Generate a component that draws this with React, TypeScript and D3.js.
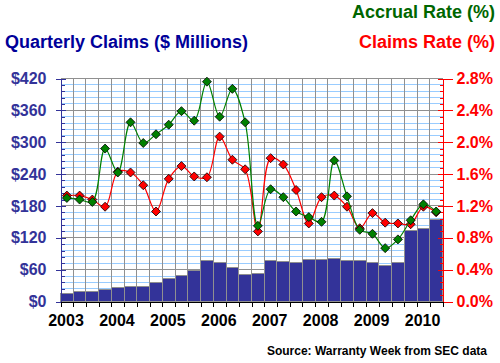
import React, { useEffect, useRef } from 'react';
import * as d3 from 'd3';

// quarters from 2003 Q1 to 2010 Q2
const quarters = [
  '2003Q1', '2003Q2', '2003Q3', '2003Q4',
  '2004Q1', '2004Q2', '2004Q3', '2004Q4',
  '2005Q1', '2005Q2', '2005Q3', '2005Q4',
  '2006Q1', '2006Q2', '2006Q3', '2006Q4',
  '2007Q1', '2007Q2', '2007Q3', '2007Q4',
  '2008Q1', '2008Q2', '2008Q3', '2008Q4',
  '2009Q1', '2009Q2', '2009Q3', '2009Q4',
  '2010Q1', '2010Q2',
];
const yearLabels = ['2003', '2004', '2005', '2006', '2007', '2008', '2009', '2010'];

// quarterly claims, $ millions (bars, left axis)
const claimsMillions = [
  15, 18, 18, 22, 27, 29, 29, 35,
  44, 49, 59, 77, 74, 64, 51, 53,
  77, 76, 74, 79, 79, 81, 77, 77,
  74, 68, 74, 134, 138, 154,
];
// accrual rate, % (green line, right axis)
const accrualRate = [
  1.30, 1.28, 1.25, 1.92, 1.62, 2.25, 1.99, 2.10,
  2.22, 2.39, 2.27, 2.76, 2.32, 2.67, 2.25, 0.95,
  1.41, 1.31, 1.13, 1.06, 1.00, 1.77, 1.32, 0.90,
  0.85, 0.67, 0.78, 1.02, 1.22, 1.13,
];
// claims rate, % (red line, right axis)
const claimsRate = [
  1.33, 1.33, 1.28, 1.19, 1.63, 1.62, 1.46, 1.13,
  1.54, 1.70, 1.57, 1.56, 2.07, 1.78, 1.66, 0.88,
  1.80, 1.72, 1.40, 0.98, 1.31, 1.33, 1.19, 0.92,
  1.11, 0.99, 0.98, 0.97, 1.19, 1.12,
];

const leftTicks = [0, 60, 120, 180, 240, 300, 360, 420];
const rightTicks = [0, 0.4, 0.8, 1.2, 1.6, 2.0, 2.4, 2.8];

const FONT = '"Liberation Sans", Arial, sans-serif';

const App = () => {
  const ref = useRef<SVGSVGElement>(null);

  useEffect(() => {
    const svg = d3.select(ref.current);
    svg.selectAll('*').remove();

    const left = 60.5, right = 442.5, top = 78.5, bottom = 301.5;

    const x = d3.scaleBand<string>().domain(quarters).range([left, right]);
    const bw = x.bandwidth();
    const xi = d3.scaleLinear().domain([0, quarters.length]).range([left, right]);
    const yL = d3.scaleLinear().domain([0, 420]).range([bottom, top]);
    const yR = d3.scaleLinear().domain([0, 2.8]).range([bottom, top]);

    const minorVals = d3.range(0, 421, 12);

    // horizontal grid
    const grid = svg.append('g').attr('shape-rendering', 'crispEdges');
    grid.selectAll('line.minor')
      .data(minorVals.filter(v => v % 60 !== 0))
      .join('line')
      .attr('x1', left).attr('x2', right)
      .attr('y1', d => yL(d)).attr('y2', d => yL(d))
      .attr('stroke', '#99ccff');
    grid.selectAll('line.major')
      .data(leftTicks)
      .join('line')
      .attr('x1', left).attr('x2', right)
      .attr('y1', d => yL(d)).attr('y2', d => yL(d))
      .attr('stroke', '#909090');
    // vertical grid, one per quarter boundary
    grid.selectAll('line.v')
      .data(d3.range(1, quarters.length))
      .join('line')
      .attr('x1', d => xi(d)).attr('x2', d => xi(d))
      .attr('y1', top).attr('y2', bottom)
      .attr('stroke', '#909090');

    // bars
    svg.append('g').attr('shape-rendering', 'crispEdges')
      .selectAll('rect')
      .data(claimsMillions)
      .join('rect')
      .attr('x', (d, i) => x(quarters[i])!)
      .attr('y', d => yL(d))
      .attr('width', bw)
      .attr('height', d => bottom - yL(d))
      .attr('fill', '#333399')
      .attr('stroke', '#909090');

    const styleAxis = (g: d3.Selection<SVGGElement, unknown, null, undefined>, color: string) => {
      g.attr('shape-rendering', 'crispEdges');
      g.select('.domain').attr('stroke', color);
      g.selectAll('.tick line').attr('stroke', color);
      g.selectAll('.tick text')
        .attr('fill', color)
        .style('font-family', FONT)
        .style('font-weight', 'bold')
        .style('font-size', '16px');
    };

    // left axis
    const gl = svg.append('g').attr('transform', `translate(${left},0)`);
    gl.call(d3.axisLeft(yL).tickValues(minorVals).tickSizeInner(-4).tickSizeOuter(0).tickFormat(() => ''));
    gl.call(g => g.append('g').call(d3.axisLeft(yL).tickValues(leftTicks).tickSizeInner(-5).tickSizeOuter(0).tickFormat(() => '')));
    gl.call(g => g.append('g').call(d3.axisLeft(yL).tickValues(leftTicks).tickSizeInner(5).tickSizeOuter(0).tickPadding(9).tickFormat(d => `$${d}`)));
    styleAxis(gl as any, '#333399');
    gl.selectAll('g').each(function () { styleAxis(d3.select(this as SVGGElement) as any, '#333399'); });
    gl.selectAll('.tick text').attr('fill', '#333399');

    // right axis
    const gr = svg.append('g').attr('transform', `translate(${right},0)`);
    gr.call(d3.axisRight(yR).tickValues(minorVals.map(v => v / 150)).tickSizeInner(-3).tickSizeOuter(0).tickFormat(() => ''));
    gr.call(g => g.append('g').call(d3.axisRight(yR).tickValues(rightTicks).tickSizeInner(-5).tickSizeOuter(0).tickFormat(() => '')));
    gr.call(g => g.append('g').call(d3.axisRight(yR).tickValues(rightTicks).tickSizeInner(10).tickSizeOuter(0).tickPadding(4).tickFormat(d => `${(+d).toFixed(1)}%`)));
    gr.selectAll('g').each(function () { styleAxis(d3.select(this as SVGGElement) as any, '#ff0000'); });
    styleAxis(gr as any, '#ff0000');

    // bottom axis
    const gb = svg.append('g').attr('transform', `translate(0,${bottom})`);
    gb.call(d3.axisBottom(xi).tickValues(d3.range(0, quarters.length + 1)).tickSizeInner(5).tickSizeOuter(0).tickFormat(() => ''));
    styleAxis(gb as any, '#000000');

    // year labels
    svg.append('g')
      .selectAll('text')
      .data(yearLabels)
      .join('text')
      .attr('x', d => x(`${d}Q1`)! + 5.5)
      .attr('y', 325.5)
      .attr('text-anchor', 'middle')
      .style('font-family', FONT)
      .style('font-weight', 'bold')
      .style('font-size', '16px')
      .attr('fill', '#000')
      .text(d => d);

    // lines + diamonds
    const diamond = 'M0,-4.5L4.5,0L0,4.5L-4.5,0Z';
    const drawSeries = (vals: number[], color: string, marker: string) => {
      const line = d3.line<number>()
        .x((d, i) => x(quarters[i])! + bw / 2)
        .y(d => yR(d))
        .curve(d3.curveCatmullRom.alpha(0.5));
      svg.append('path')
        .datum(vals)
        .attr('d', line)
        .attr('fill', 'none')
        .attr('stroke', color)
        .attr('stroke-width', 1.2);
      svg.append('g')
        .selectAll('path')
        .data(vals)
        .join('path')
        .attr('transform', (d, i) => `translate(${x(quarters[i])! + bw / 2},${yR(d)})`)
        .attr('d', diamond)
        .attr('fill', marker)
        .attr('stroke', '#000')
        .attr('stroke-width', 0.8);
    };
    drawSeries(claimsRate, '#ff0000', '#ff0000');
    drawSeries(accrualRate, '#008000', '#008000');

    // titles
    const title = (t: string, xPos: number, yPos: number, anchor: string, color: string, size: number) =>
      svg.append('text')
        .attr('x', xPos).attr('y', yPos)
        .attr('text-anchor', anchor)
        .attr('fill', color)
        .style('font-family', FONT)
        .style('font-weight', 'bold')
        .style('font-size', `${size}px`)
        .text(t);
    title('Accrual Rate (%)', 495, 17.5, 'end', '#006600', 18);
    title('Quarterly Claims ($ Millions)', 5, 48, 'start', '#000099', 18);
    title('Claims Rate (%)', 495, 48, 'end', '#ff0000', 18);
    title('Source: Warranty Week from SEC data', 487, 355, 'end', '#000000', 12);
  }, []);

  return (
    <svg
      ref={ref}
      width={500}
      height={363}
      style={{ position: 'absolute', left: 0, top: 0, background: '#fff' }}
    />
  );
};

export default App;
